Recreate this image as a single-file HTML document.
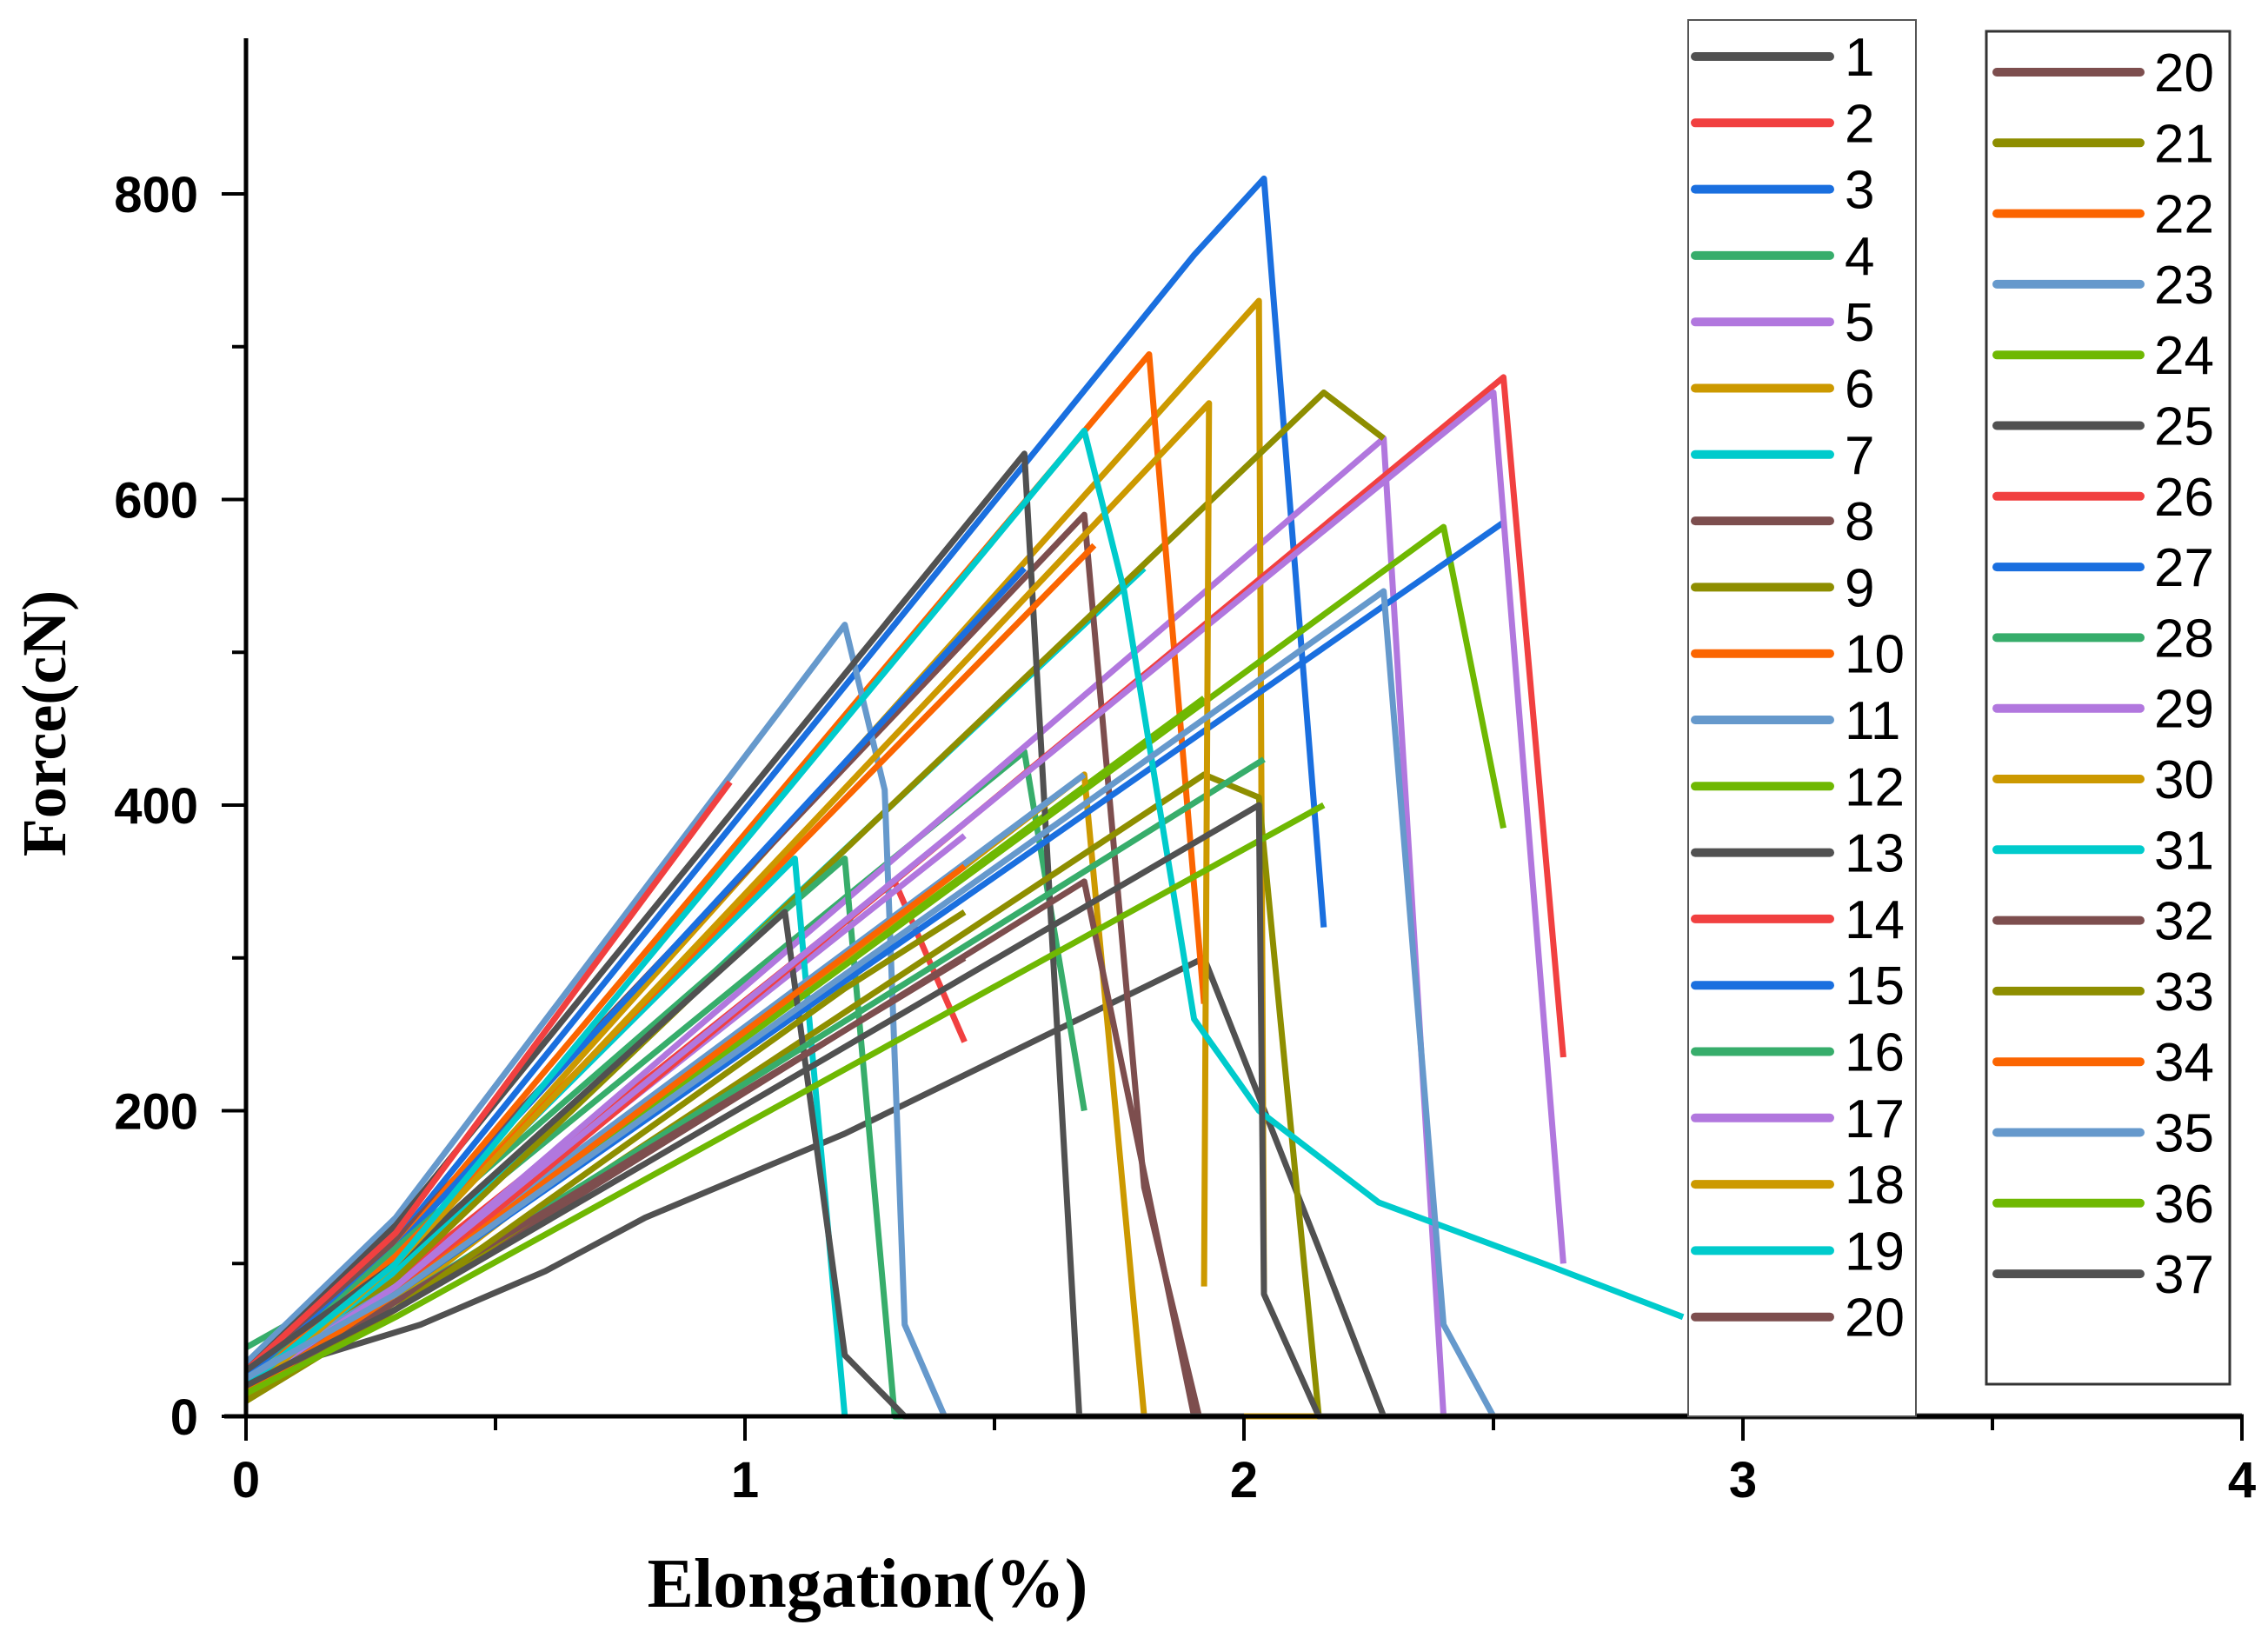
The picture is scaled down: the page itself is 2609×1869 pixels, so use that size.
<!DOCTYPE html>
<html><head><meta charset="utf-8"><style>
html,body{margin:0;padding:0;background:#fff;}
svg{display:block;}
</style></head><body>
<svg id="chart" width="2609" height="1869" viewBox="0 0 2609 1869" xmlns="http://www.w3.org/2000/svg">
<g id="plot"></g>
<g id="axes"></g>
<g id="legend"></g>
</svg>
<script>
const seriesNames = ["1","2","3","4","5","6","7","8","9","10","11","12","13","14","15","16","17","18","19","20","21","22","23","24","25","26","27","28","29","30","31","32","33","34","35","36","37"];
const elongation = [
 [0,0.35,0.6,0.8,1.2,1.92,2.15,2.28,4],
 [0,0.3,1.3,1.44],
 [0,0.3,1.9,2.04,2.16],
 [0,0.3,1.56,1.68],
 [0,0.3,2.28,2.4,2.5,4],
 [0,0.3,2.03,2.04],
 [0,0.3,1.8],
 [0,0.3,1.68,1.8,1.91,2.5],
 [0,0.3,2.16,2.28],
 [0,0.3,1.81,1.92],
 [0,0.3,1.2,1.28,1.32,1.4,2],
 [0,0.3,1.92],
 [0,0.3,1.56,1.67,1.7,4],
 [0,0.3,0.97],
 [0,0.3,1.56],
 [0,0.3,1.2,1.3,1.5,4],
 [0,0.3,1.44],
 [0,0.3,1.68,1.8,2,4],
 [0,0.3,1.1,1.2],
 [0,0.3,1.68,1.9],
 [0,0.3,1.92,2.03,2.15,4],
 [0,0.3,1.7],
 [0,0.3,1.68],
 [0,0.3,2.4,2.52],
 [0,0.3,1.08,1.2,1.32,2],
 [0,0.3,2.52,2.64],
 [0,0.3,2.52],
 [0,0.3,2.04],
 [0,0.3,2.5,2.64],
 [0,0.3,1.93,1.92],
 [0,0.3,1.68,1.76,1.9,2.03,2.27,2.6,2.88],
 [0,0.3,1.44],
 [0,0.3,1.2,1.44],
 [0,0.3,1.44],
 [0,0.3,2.28,2.4,2.5,4],
 [0,0.3,2.16],
 [0,0.3,2.03,2.04,2.15,3.6,4]
];
const force = [
 [25,60,95,130,185,300,110,0,0],
 [20,90,350,245],
 [20,115,760,810,320],
 [45,100,435,200],
 [15,85,640,0,0,0],
 [10,100,730,80],
 [20,95,555],
 [25,115,590,150,0,0],
 [15,90,670,640],
 [20,110,695,270],
 [35,130,518,410,60,0,0],
 [10,80,470],
 [30,125,630,0,0,0],
 [30,120,415],
 [25,110,555],
 [20,110,365,0,0,0],
 [20,85,380],
 [10,75,420,0,0,0],
 [20,105,365,0],
 [15,70,350,0],
 [10,70,420,405,0,0],
 [20,105,570],
 [25,85,420],
 [20,80,582,385],
 [30,100,330,40,0,0],
 [15,80,680,235],
 [20,80,585],
 [15,75,430],
 [20,85,670,100],
 [15,100,663,85],
 [20,100,645,540,260,200,140,100,65],
 [15,75,300],
 [10,70,280,330],
 [15,80,360],
 [25,80,540,60,0,0],
 [15,65,400],
 [20,70,400,80,0,0,0]
];
const xTicks = [0,1,2,3,4];
const yTicks = [0,200,400,600,800];

const palette = ["#515151","#F14040","#1A6FDF","#37AD6B","#B177DE","#CC9900","#00CBCC","#7D4E4E","#8E8E00","#FB6501","#6699CC","#6FB802"];
const NS = "http://www.w3.org/2000/svg";
const X0 = 283, X1 = 2579, Y0 = 1629, Y800 = 223;
function sx(v){ return X0 + (X1 - X0) * v / 4; }
function sy(v){ return Y0 - (Y0 - Y800) * v / 800; }
function mk(tag, attrs, parent){ const e = document.createElementNS(NS, tag); for (const k in attrs) e.setAttribute(k, attrs[k]); parent.appendChild(e); return e; }

const plot = document.getElementById('plot');
for (let i = 0; i < seriesNames.length; i++) {
  const pts = elongation[i].map((x, j) => sx(x).toFixed(1) + ',' + sy(force[i][j]).toFixed(1)).join(' ');
  const pl = mk('polyline', {points: pts, fill: 'none', stroke: palette[i % 12], 'stroke-width': 7, 'stroke-linejoin': 'round'}, plot);
  
  
}

const axes = document.getElementById('axes');
const ya = mk('line', {x1: X0, y1: 44, x2: X0, y2: Y0 + 2, stroke: '#000', 'stroke-width': 5}, axes);


const xa = mk('line', {x1: X0 - 25, y1: Y0, x2: X1 + 2, y2: Y0, stroke: '#000', 'stroke-width': 5}, axes);


for (let v = 0; v <= 4; v += 0.5) {
  const major = Math.abs(v - Math.round(v)) < 1e-9;
  const t = mk('line', {x1: sx(v), y1: Y0, x2: sx(v), y2: Y0 + (major ? 28 : 16), stroke: '#000', 'stroke-width': 4}, axes);
  
  
}
for (let v = 0; v <= 850; v += 100) {
  const major = v % 200 === 0;
  const t = mk('line', {x1: X0, y1: sy(v), x2: X0 - (major ? 28 : 16), y2: sy(v), stroke: '#000', 'stroke-width': 4}, axes);
  
  
}
xTicks.forEach(v => {
  const t = mk('text', {x: sx(v), y: 1722, 'text-anchor': 'middle', 'font-family': 'Liberation Sans, sans-serif', 'font-weight': 'bold', 'font-size': 58}, axes);
  t.textContent = v;
  
  
});
yTicks.forEach(v => {
  const t = mk('text', {x: 228, y: sy(v) + 21, 'text-anchor': 'end', 'font-family': 'Liberation Sans, sans-serif', 'font-weight': 'bold', 'font-size': 58}, axes);
  t.textContent = v;
  
  
});
const xt = mk('text', {x: 998, y: 1848, 'text-anchor': 'middle', 'font-family': 'Liberation Serif, serif', 'font-weight': 'bold', 'font-size': 80}, axes);
xt.textContent = 'Elongation(%)';


const yt = mk('text', {x: 0, y: 0, 'text-anchor': 'middle', 'font-family': 'Liberation Serif, serif', 'font-weight': 'bold', 'font-size': 72, transform: 'translate(75,832) rotate(-90)'}, axes);
yt.textContent = 'Force(cN)';



const legend = document.getElementById('legend');
const b1 = mk('rect', {x: 1942, y: 23, width: 262, height: 1606, fill: '#fff', stroke: '#555', 'stroke-width': 2}, legend);


const b2 = mk('rect', {x: 2285, y: 36, width: 280, height: 1556, fill: '#fff', stroke: '#333', 'stroke-width': 3}, legend);


function entry(label, color, lx1, lx2, ly, tx) {
  const l = mk('line', {x1: lx1, y1: ly, x2: lx2, y2: ly, stroke: color, 'stroke-width': 10, 'stroke-linecap': 'round'}, legend);
  
  
  const t = mk('text', {x: tx, y: ly + 22, 'font-family': 'Liberation Sans, sans-serif', 'font-size': 62}, legend);
  t.textContent = label;
  
  
}
for (let i = 0; i < 19; i++) entry(seriesNames[i], palette[i % 12], 1950, 2105, 65 + i * 76.3, 2122);
entry("20", palette[7], 1950, 2105, 65 + 19 * 76.3, 2122);
for (let i = 19; i < 37; i++) entry(seriesNames[i], palette[i % 12], 2297, 2462, 83 + (i - 19) * 81.3, 2478);
</script>
</body></html>
